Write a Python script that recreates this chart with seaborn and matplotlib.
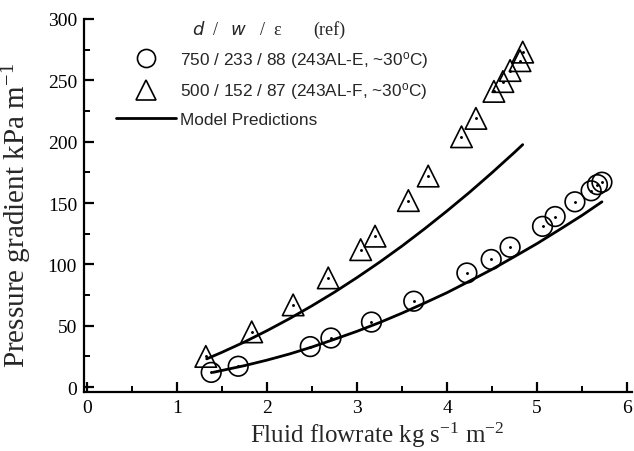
import matplotlib
matplotlib.use('Agg')
import matplotlib.pyplot as plt
from matplotlib.lines import Line2D
import pandas as pd
import seaborn as sns

# measured points, 750/233/88 (circles)
flow_e = [1.38, 1.68, 2.48, 2.71, 3.16, 3.63, 4.22, 4.49, 4.70, 5.06, 5.20, 5.42, 5.60, 5.67, 5.72]
dp_e = [12, 17, 33, 40, 53, 70, 93, 104, 114, 131, 139, 151, 160, 165, 167]

# measured points, 500/152/87 (triangles)
flow_f = [1.32, 1.83, 2.29, 2.68, 3.04, 3.20, 3.57, 3.79, 4.16, 4.32, 4.52, 4.62, 4.70, 4.81, 4.84]
dp_f = [25, 45, 67, 89, 112, 123, 152, 172, 204, 219, 241, 249, 258, 266, 273]

# model predictions
model_x_e = [1.40, 1.75, 2.0, 2.25, 2.5, 2.75, 3.0, 3.25, 3.5, 3.75, 4.0, 4.25, 4.5, 4.75, 5.0, 5.25, 5.5, 5.72]
model_y_e = [12, 17.5, 22, 27, 32.7, 39, 45.5, 52.6, 60.3, 68.5, 77, 86.4, 96, 106.4, 117, 128.4, 140, 151]
model_x_f = [1.33, 1.5, 1.75, 2.0, 2.25, 2.5, 2.75, 3.0, 3.25, 3.5, 3.75, 4.0, 4.25, 4.5, 4.75, 4.84]
model_y_f = [23, 28.4, 36.8, 46, 55.8, 66.3, 77.4, 89.3, 101.8, 115, 129, 143.6, 158.8, 174.8, 191.4, 197.6]

x_major = [0, 1, 2, 3, 4, 5, 6]
x_minor = [0.5, 1.5, 2.5, 3.5, 4.5, 5.5]
y_major = [0, 50, 100, 150, 200, 250, 300]
y_minor = [25, 75, 125, 175, 225, 275]

sns.set_style('white')
plt.rcParams['font.family'] = ['Liberation Serif', 'DejaVu Serif']
plt.rcParams['mathtext.default'] = 'regular'

fig = plt.figure(figsize=(6.34, 4.52), dpi=100)
ax = fig.add_axes([0.1325, 0.1305, 0.8645, 0.8253])

df_e = pd.DataFrame({'x': flow_e, 'y': dp_e})
df_f = pd.DataFrame({'x': flow_f, 'y': dp_f})

sns.lineplot(x=model_x_e, y=model_y_e, ax=ax, color='black', lw=2, zorder=2)
sns.lineplot(x=model_x_f, y=model_y_f, ax=ax, color='black', lw=2, zorder=2)

sns.scatterplot(data=df_e, x='x', y='y', ax=ax, marker='o', s=200,
                facecolor='none', edgecolor='black', linewidth=1.2, zorder=3)
sns.scatterplot(data=df_f, x='x', y='y', ax=ax, marker='^', s=240,
                facecolor='none', edgecolor='black', linewidth=1.2, zorder=3)
# centre dots
ax.scatter(flow_e + flow_f, dp_e + dp_f, s=1.2, color='black', zorder=4)

ax.set_xlim(-0.033, 6.055)
ax.set_ylim(-4, 300)
ax.set_xticks(x_major)
ax.set_xticks(x_minor, minor=True)
ax.set_yticks(y_major)
ax.set_yticks(y_minor, minor=True)
ax.xaxis.set_tick_params(which='major', direction='in', length=7, width=1.6,
                         color='black', bottom=True, labelsize=14, labelcolor='black', pad=5)
ax.yaxis.set_tick_params(which='major', direction='in', length=7, width=1.6,
                         color='black', left=True, labelsize=14, labelcolor='black', pad=5)
ax.xaxis.set_tick_params(which='minor', direction='in', length=4, width=1.4,
                         color='black', bottom=True)
ax.yaxis.set_tick_params(which='minor', direction='in', length=4, width=1.4,
                         color='black', left=True)
for side in ['top', 'right']:
    ax.spines[side].set_visible(False)
for side in ['left', 'bottom']:
    ax.spines[side].set_linewidth(1.6)
    ax.spines[side].set_color('black')

ax.set_xlabel('Fluid flowrate kg s$^{-1}$ m$^{-2}$', fontsize=18)
ax.set_ylabel('Pressure gradient kPa m$^{-1}$', fontsize=21)
ax.xaxis.set_label_coords(0.535, -0.075)
ax.yaxis.set_label_coords(-0.092, 0.475)

handles = [
    Line2D([], [], marker='o', ls='none', mfc='none', mec='black', ms=13, mew=1.2),
    Line2D([], [], marker='^', ls='none', mfc='none', mec='black', ms=15, mew=1.2),
    Line2D([], [], color='black', lw=2),
]
labels = ['750 / 233 / 88 (243AL-E, ~30$^{o}$C)',
          '500 / 152 / 87 (243AL-F, ~30$^{o}$C)',
          'Model Predictions']
leg = ax.legend(handles, labels, loc='upper left', bbox_to_anchor=(0.03, 0.962),
                frameon=False, handlelength=3.5, handletextpad=0.2,
                labelspacing=0.62, prop={'family': 'Liberation Sans', 'size': 12.4})

fig.text(0.303, 0.933, '$\\it{d}$  /   $\\it{w}$   /  ε', fontsize=13, va='center')
fig.text(0.494, 0.933, '(ref)', fontsize=13, va='center')

fig.savefig('out.png', dpi=100)
